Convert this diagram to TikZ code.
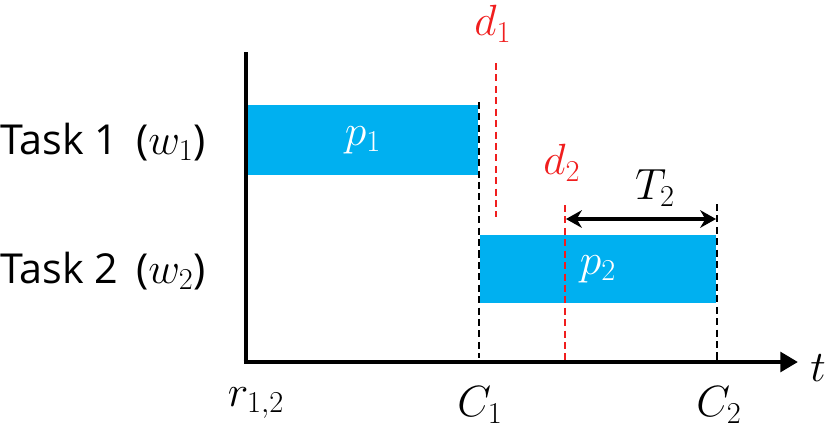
\documentclass[tikz,border=0pt]{standalone}
\usepackage{fontspec}
\usepackage{amsmath}
\usepackage{tikz}
\usetikzlibrary{arrows.meta, positioning, calc}
\newfontfamily\tasksf{Open Sans}
\definecolor{mycyan}{RGB}{0,176,240}
\definecolor{myred}{RGB}{240,30,30}
\definecolor{mydark}{RGB}{0,0,0}
\tikzset{
  taskbox/.style={rectangle, fill=mycyan, draw=none, inner sep=0pt,
    font=\fontsize{26}{30}\selectfont, text=white},
  tasklabel/.style={anchor=west, inner sep=0pt, font=\tasksf\fontsize{23.5}{28}\selectfont},
  mathlabel/.style={inner sep=0pt, font=\fontsize{26}{30}\selectfont},
  axis/.style={line width=2.8pt, color=mydark},
  blackdash/.style={line width=1.2pt, color=mydark, dash pattern=on 4pt off 2.5pt},
  reddash/.style={line width=1.4pt, color=myred, dash pattern=on 4pt off 2.5pt},
  dimarrow/.style={{Stealth[length=9pt,width=10pt]}-{Stealth[length=9pt,width=10pt]}, line width=2.2pt, color=mydark}
}
\begin{document}
\begin{tikzpicture}[x=0.02cm, y=-0.02cm]
  \useasboundingbox (0,0) rectangle (827,427);

  % --- AXES ---
  \coordinate (origin) at (246,362);
  \coordinate (ytop) at (246,52);
  \coordinate (xend) at (798,362);
  \draw[axis] (ytop) -- (origin);
  \draw[axis, -{Triangle[length=10pt,width=11pt]}] ([xshift=-1.4pt]origin) -- (xend);
  \node[mathlabel] (tlab) at (818,368) {$t$};

  % --- TASK BARS ---
  \node[taskbox, minimum width=4.6cm, minimum height=1.4cm] (bar1) at (363,140) {$p_1$};
  \node[taskbox, minimum width=4.72cm, minimum height=1.36cm] (bar2) at (598,269) {$p_2$};
  \node[tasklabel] (task1) at (0,142) {Task 1\, ($w_1$)};
  \node[tasklabel] (task2) at (0,271) {Task 2\, ($w_2$)};

  % --- COMPLETION TIMES ---
  \coordinate (c1top) at (479,102);
  \coordinate (c1bot) at (479,358);
  \coordinate (c2top) at (717,204);
  \coordinate (c2bot) at (717,360);
  \draw[blackdash] (c1top) -- (c1bot);
  \draw[blackdash] (c2top) -- (c2bot);
  \node[mathlabel] (c1lab) at (480,405) {$C_1$};
  \node[mathlabel] (c2lab) at (719,405) {$C_2$};
  \node[mathlabel] (rlab) at (256,403) {$r_{1,2}$};

  % --- DEADLINES ---
  \coordinate (d1top) at (496,63);
  \coordinate (d1bot) at (496,217);
  \coordinate (d2top) at (565,205);
  \coordinate (d2bot) at (565,360);
  \draw[reddash] (d1top) -- (d1bot);
  \draw[reddash] (d2top) -- (d2bot);
  \node[mathlabel, text=myred] (d1lab) at (493,24) {$d_1$};
  \node[mathlabel, text=myred] (d2lab) at (562,163) {$d_2$};

  % --- TARDINESS ---
  \coordinate (tstart) at (566,219);
  \coordinate (tend) at (716,219);
  \draw[dimarrow] (tstart) -- (tend);
  \node[mathlabel] (tardlab) at (655,188) {$T_2$};
\end{tikzpicture}
\end{document}
